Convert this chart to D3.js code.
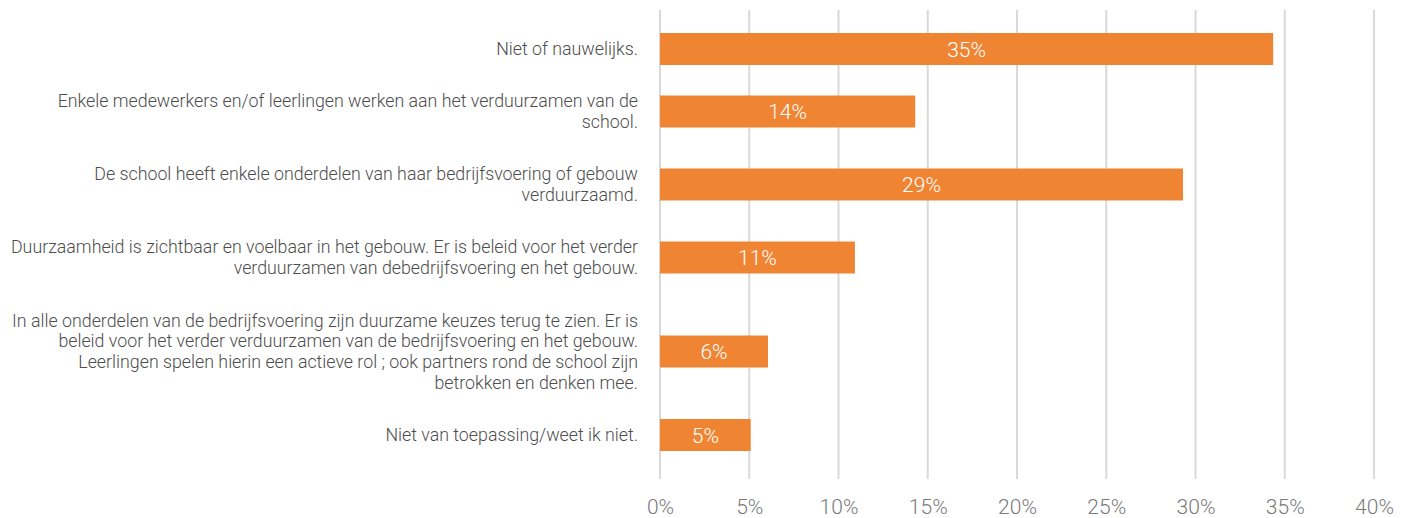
<!DOCTYPE html>
<html><head><meta charset="utf-8">
<script src="https://cdn.jsdelivr.net/npm/d3@7"></script>
<style>body{margin:0;background:#fff}svg{display:block}</style>
</head><body>
<svg id="c" width="1413" height="518"></svg>
<script>
const categories = [
  "Niet of nauwelijks.",
  "Enkele medewerkers en/of leerlingen werken aan het verduurzamen van de\nschool.",
  "De school heeft enkele onderdelen van haar bedrijfsvoering of gebouw\nverduurzaamd.",
  "Duurzaamheid is zichtbaar en voelbaar in het gebouw. Er is beleid voor het verder\nverduurzamen van debedrijfsvoering en het gebouw.",
  "In alle onderdelen van de bedrijfsvoering zijn duurzame keuzes terug te zien. Er is\nbeleid voor het verder verduurzamen van de bedrijfsvoering en het gebouw.\nLeerlingen spelen hierin een actieve rol ; ook partners rond de school zijn\nbetrokken en denken mee.",
  "Niet van toepassing/weet ik niet."
];
const values = [34.35, 14.3, 29.3, 10.92, 6.05, 5.08];
const valueLabels = ["35%", "14%", "29%", "11%", "6%", "5%"];
const tickValues = [0, 5, 10, 15, 20, 25, 30, 35, 40];

const svg = d3.select("#c");
const font = "Roboto, 'Liberation Sans', sans-serif";

const x = d3.scaleLinear().domain([0, 40]).range([660, 1374]);

// row heights weighted by the number of label lines
const lines = categories.map(c => c.split("\n"));
const weights = lines.map(l => 31 + 21 * l.length);
const offsets = [];
weights.reduce((acc, w, i) => { offsets[i] = acc; return acc + w; }, 0);
const total = d3.sum(weights);
const y = d3.scaleLinear().domain([0, total]).range([23, 461]);
const barH = 32;
const cy = i => y(offsets[i] + weights[i] / 2);

// gridlines
svg.append("g").selectAll("line").data(tickValues).join("line")
  .attr("x1", d => x(d)).attr("x2", d => x(d))
  .attr("y1", 10).attr("y2", 479)
  .attr("stroke", "#d9d9d9").attr("stroke-width", 2);

// x axis tick labels
const xAxis = d3.axisBottom(x).tickValues(tickValues).tickFormat(d => d + "%").tickSize(0).tickPadding(0);
const ax = svg.append("g").attr("transform", "translate(0,500)").call(xAxis);
ax.select(".domain").remove();
ax.selectAll("text").attr("font-family", font).attr("font-weight", 300)
  .attr("font-size", 21).attr("fill", "#7a7a7a").attr("dy", "0.68em");

// bars
svg.append("g").selectAll("rect").data(values).join("rect")
  .attr("x", x(0)).attr("y", (d, i) => cy(i) - barH / 2)
  .attr("width", d => x(d) - x(0)).attr("height", barH)
  .attr("fill", "#ef8533");

// value labels
svg.append("g").selectAll("text").data(values).join("text")
  .attr("x", d => (x(0) + x(d)) / 2).attr("y", (d, i) => cy(i))
  .attr("dy", "0.36em").attr("text-anchor", "middle")
  .attr("font-family", font).attr("font-weight", 300).attr("font-size", 21)
  .attr("fill", "#fff").text((d, i) => valueLabels[i]);

// category labels
const lh = 20.8;
const lab = svg.append("g").selectAll("text").data(lines).join("text")
  .attr("text-anchor", "end").attr("font-family", font).attr("font-weight", 300)
  .attr("font-size", 17.8).attr("fill", "#4d4d4d");
lab.each(function(l, i) {
  const t = d3.select(this);
  const start = cy(i) - (l.length - 1) * lh / 2;
  l.forEach((s, k) => {
    t.append("tspan").attr("x", 638).attr("y", start + k * lh).attr("dy", "0.35em").text(s);
  });
});
</script>
</body></html>
